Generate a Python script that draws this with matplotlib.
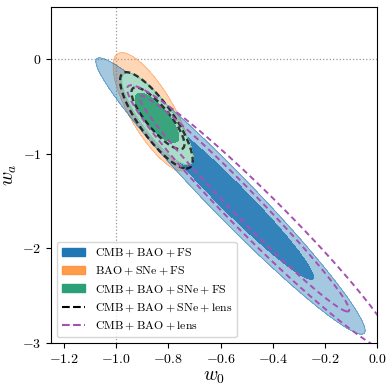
import numpy as np
import matplotlib
matplotlib.use("Agg")
import matplotlib.pyplot as plt
from matplotlib.patches import Patch
from matplotlib.lines import Line2D

plt.rcParams["mathtext.fontset"] = "cm"
plt.rcParams["font.family"] = "serif"
plt.rcParams["font.serif"] = ["cmr10"]
plt.rcParams["axes.formatter.use_mathtext"] = True

# each contour: centre, x/y half-extent, correlation  (outer 95%, inner 68%)
labels = ["CMB + BAO + FS", "BAO + SNe + FS", "CMB + BAO + SNe + FS",
          "CMB + BAO + SNe + lens", "CMB + BAO + lens"]

cbf_x0 = [-0.562, -0.562]
cbf_y0 = [-1.447, -1.447]
cbf_sx = [0.516, 0.318]
cbf_sy = [1.46, 0.88]
cbf_rho = [-0.974, -0.972]

bsf_x0 = [-0.863]
bsf_y0 = [-0.557]
bsf_sx = [0.149]
bsf_sy = [0.625]
bsf_rho = [-0.77]

cbsf_x0 = [-0.842, -0.844]
cbsf_y0 = [-0.631, -0.620]
cbsf_sx = [0.137, 0.0835]
cbsf_sy = [0.485, 0.261]
cbsf_rho = [-0.84, -0.773]

cbsl_x0 = [-0.846, -0.840]
cbsl_y0 = [-0.647, -0.626]
cbsl_sx = [0.139, 0.1015]
cbsl_sy = [0.509, 0.327]
cbsl_rho = [-0.825, -0.836]

cbl_x0 = [-0.443, -0.509]
cbl_y0 = [-1.691, -1.527]
cbl_sx = [0.515, 0.402]
cbl_sy = [1.415, 1.14]
cbl_rho = [-0.971, -0.984]

blue = "#1f77b4"
orange = "#ff8c2e"
green = "#2a9f78"
purple = "#a64fb5"

xx, yy = np.meshgrid(np.linspace(-1.3, 0.2, 700), np.linspace(-3.3, 0.7, 700))


def quad(x0, y0, sx, sy, rho):
    dx = (xx - x0) / sx
    dy = (yy - y0) / sy
    return (dx ** 2 - 2 * rho * dx * dy + dy ** 2) / (1 - rho ** 2)


def tex(s):
    # spaced + like latex binary ops
    return "$" + r"\:+\:".join(r"\mathrm{%s}" % p.strip() for p in s.split("+")) + "$"


fig = plt.figure(figsize=(3.92, 3.92), dpi=100)
ax = fig.add_axes([0.130, 0.125, 0.832, 0.857])

ax.axvline(-1, color="0.6", ls=":", lw=0.9, zorder=0)
ax.axhline(0, color="0.6", ls=":", lw=0.9, zorder=0)

# BAO + SNe + FS
q = quad(bsf_x0[0], bsf_y0[0], bsf_sx[0], bsf_sy[0], bsf_rho[0])
ax.contourf(xx, yy, q, levels=[0, 1], colors=[orange], alpha=0.35, zorder=1)
ax.contour(xx, yy, q, levels=[1], colors=[orange], linewidths=0.6, alpha=0.5, zorder=1)

# CMB + BAO + FS
q = quad(cbf_x0[0], cbf_y0[0], cbf_sx[0], cbf_sy[0], cbf_rho[0])
ax.contourf(xx, yy, q, levels=[0, 1], colors=[blue], alpha=0.4, zorder=2)
ax.contour(xx, yy, q, levels=[1], colors=[blue], linewidths=0.6, alpha=0.6, zorder=2)
q = quad(cbf_x0[1], cbf_y0[1], cbf_sx[1], cbf_sy[1], cbf_rho[1])
ax.contourf(xx, yy, q, levels=[0, 1], colors=[blue], alpha=0.85, zorder=2)

# CMB + BAO + SNe + FS
q = quad(cbsf_x0[0], cbsf_y0[0], cbsf_sx[0], cbsf_sy[0], cbsf_rho[0])
ax.contourf(xx, yy, q, levels=[0, 1], colors=["#abdcc8"], zorder=3)
ax.contour(xx, yy, q, levels=[1], colors=[green], linewidths=0.6, alpha=0.5, zorder=3)
q = quad(cbsf_x0[1], cbsf_y0[1], cbsf_sx[1], cbsf_sy[1], cbsf_rho[1])
ax.contourf(xx, yy, q, levels=[0, 1], colors=["#3aa57c"], zorder=3)

# dashed ones
for i in range(2):
    q = quad(cbsl_x0[i], cbsl_y0[i], cbsl_sx[i], cbsl_sy[i], cbsl_rho[i])
    ax.contour(xx, yy, q, levels=[1], colors=["k"], linewidths=1.7,
               linestyles=[(0, (2.5, 1.5))], alpha=0.75, zorder=4)
for i in range(2):
    q = quad(cbl_x0[i], cbl_y0[i], cbl_sx[i], cbl_sy[i], cbl_rho[i])
    ax.contour(xx, yy, q, levels=[1], colors=[purple], linewidths=1.4,
               linestyles=[(0, (3, 2))], zorder=5)

ax.set_xlim(-1.25, 0.0)
ax.set_ylim(-3.0, 0.55)
ax.set_xticks([-1.2, -1.0, -0.8, -0.6, -0.4, -0.2, 0.0])
ax.set_yticks([-3, -2, -1, 0])
ax.tick_params(labelsize=10)
ax.set_xlabel(r"$w_0$", fontsize=14, labelpad=2)
ax.set_ylabel(r"$w_a$", fontsize=14, labelpad=2)

handles = [
    Patch(color=blue),
    Patch(color=orange, alpha=0.85),
    Patch(color=green),
    Line2D([], [], color="k", ls="--", lw=1.5),
    Line2D([], [], color=purple, ls="--", lw=1.5),
]
ax.legend(handles, [tex(s) for s in labels], loc="lower left", fontsize=8.5)

fig.savefig("out.png", dpi=100)
